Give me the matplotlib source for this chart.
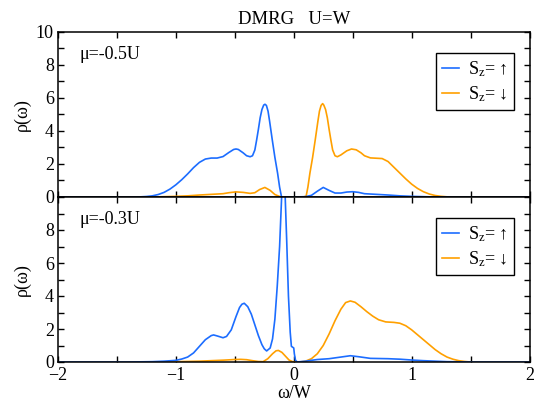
import matplotlib
matplotlib.use("Agg")
import matplotlib.pyplot as plt
from matplotlib.ticker import MultipleLocator

plt.rcParams['font.family'] = ['Liberation Serif', 'DejaVu Serif']
plt.rcParams['mathtext.fontset'] = 'custom'
plt.rcParams['mathtext.rm'] = 'Liberation Serif'
plt.rcParams['mathtext.it'] = 'Liberation Serif'

# ===============================
# Data
# ===============================
# top panel, mu = -0.5U
w_up_a = [-2.0, -1.4, -1.3, -1.25, -1.2, -1.15, -1.1, -1.05, -1.0, -0.95, -0.9, -0.85,
          -0.8, -0.75, -0.7, -0.65, -0.6, -0.55, -0.51, -0.49, -0.47, -0.43, -0.4,
          -0.37, -0.35, -0.33, -0.315, -0.3, -0.285, -0.27, -0.255, -0.244, -0.232,
          -0.218, -0.205, -0.195, -0.182, -0.16, -0.137, -0.12, -0.105, -0.1, -0.092,
          -0.08, -0.07, 0.0, 0.1, 0.15, 0.2, 0.25, 0.3, 0.35, 0.4, 0.45, 0.5, 0.55,
          0.6, 0.7, 0.8, 0.9, 1.0, 1.1, 1.2, 2.0]
rho_up_a = [0.0, 0.0, 0.01, 0.03, 0.07, 0.15, 0.28, 0.48, 0.74, 1.05, 1.4, 1.78,
            2.1, 2.3, 2.36, 2.36, 2.45, 2.7, 2.88, 2.91, 2.88, 2.68, 2.5,
            2.44, 2.5, 2.85, 3.45, 4.1, 4.8, 5.3, 5.57, 5.62, 5.55,
            5.2, 4.6, 4.1, 3.45, 2.4, 1.44, 0.6, 0.05, 0.0, -0.5,
            -0.3, 0.0, 0.0, 0.02, 0.1, 0.35, 0.58, 0.4, 0.24, 0.24, 0.3, 0.32, 0.28,
            0.2, 0.16, 0.12, 0.07, 0.04, 0.02, 0.0, 0.0]

w_dn_a = [-2.0, -1.2, -1.0, -0.9, -0.8, -0.75, -0.7, -0.6, -0.55, -0.49, -0.43,
          -0.37, -0.33, -0.29, -0.245, -0.2, -0.16, -0.12, -0.1, 0.0, 0.08, 0.105,
          0.12, 0.137, 0.16, 0.182, 0.195, 0.205, 0.218, 0.232, 0.245, 0.255, 0.27,
          0.285, 0.3, 0.315, 0.33, 0.35, 0.37, 0.4, 0.45, 0.49, 0.53, 0.57, 0.6,
          0.65, 0.7, 0.75, 0.8, 0.85, 0.9, 0.95, 1.0, 1.05, 1.1, 1.15, 1.2, 1.25,
          1.3, 1.4, 2.0]
rho_dn_a = [0.0, 0.0, 0.04, 0.07, 0.12, 0.14, 0.16, 0.2, 0.26, 0.31, 0.28,
            0.22, 0.26, 0.45, 0.58, 0.4, 0.15, 0.03, 0.0, 0.0, 0.0, 0.05,
            0.6, 1.44, 2.4, 3.45, 4.1, 4.6, 5.2, 5.55, 5.66, 5.57, 5.3,
            4.8, 4.1, 3.45, 2.85, 2.5, 2.44, 2.55, 2.8, 2.91, 2.86, 2.68, 2.5,
            2.37, 2.35, 2.33, 2.15, 1.8, 1.45, 1.1, 0.78, 0.52, 0.32, 0.18, 0.09, 0.04,
            0.01, 0.0, 0.0]

# bottom panel, mu = -0.3U
w_up_b = [-2.0, -1.4, -1.3, -1.2, -1.1, -1.0, -0.95, -0.9, -0.85, -0.8, -0.75,
          -0.7, -0.68, -0.65, -0.6, -0.57, -0.53, -0.49, -0.46, -0.44, -0.42, -0.39,
          -0.36, -0.33, -0.3, -0.27, -0.25, -0.23, -0.2, -0.18, -0.16, -0.14,
          -0.12, -0.1, -0.09, -0.075, -0.06, -0.045, -0.03, -0.02, -0.01, 0.0,
          0.005, 0.015, 0.03, 0.1, 0.2, 0.3, 0.4, 0.48, 0.55, 0.65, 0.8, 0.9,
          1.0, 1.1, 1.2, 1.3, 1.5, 2.0]
rho_up_b = [0.0, 0.0, 0.01, 0.02, 0.05, 0.1, 0.18, 0.3, 0.55, 0.95, 1.35,
            1.6, 1.64, 1.58, 1.47, 1.55, 1.95, 2.75, 3.3, 3.5, 3.56, 3.35,
            2.9, 2.25, 1.6, 1.05, 0.8, 0.67, 0.85, 1.4, 2.6, 4.6,
            7.0, 10.5, 11.5, 10.5, 7.4, 4.0, 1.8, 0.95, 0.9, 0.85,
            0.5, 0.1, 0.0, 0.05, 0.15, 0.2, 0.3, 0.38, 0.32, 0.22, 0.2, 0.17,
            0.12, 0.08, 0.05, 0.02, 0.0, 0.0]

w_dn_b = [-2.0, -1.2, -1.0, -0.8, -0.7, -0.6, -0.5, -0.45, -0.4, -0.35, -0.3,
          -0.26, -0.22, -0.18, -0.15, -0.13, -0.1, -0.07, -0.04, -0.01, 0.05,
          0.1, 0.15, 0.2, 0.25, 0.3, 0.35, 0.4, 0.44, 0.48, 0.52, 0.57, 0.62,
          0.67, 0.72, 0.78, 0.85, 0.9, 0.95, 1.0, 1.05, 1.1, 1.15, 1.2, 1.25,
          1.3, 1.35, 1.4, 1.45, 1.5, 2.0]
rho_dn_b = [0.0, 0.0, 0.02, 0.05, 0.08, 0.11, 0.15, 0.16, 0.14, 0.08, 0.03,
            0.02, 0.2, 0.5, 0.68, 0.7, 0.58, 0.35, 0.12, 0.02, 0.0,
            0.05, 0.2, 0.5, 1.0, 1.7, 2.5, 3.2, 3.6, 3.7, 3.62, 3.35, 3.05,
            2.78, 2.56, 2.43, 2.4, 2.35, 2.2, 1.95, 1.65, 1.35, 1.05, 0.75, 0.5,
            0.3, 0.17, 0.08, 0.03, 0.0, 0.0]

panel_labels = ["\u03bc=-0.5U", "\u03bc=-0.3U"]
legend_labels = ["S$_\\mathrm{z}$= \u2191", "S$_\\mathrm{z}$= \u2193"]
c_up = "#1c6dff"
c_dn = "#ffa000"
fs = 13

fig = plt.figure(figsize=(5.35, 4.01), dpi=100)
ax1 = fig.add_axes([58 / 535, 1 - 197 / 401, 471.5 / 535, 165 / 401])
ax2 = fig.add_axes([58 / 535, 1 - 362 / 401, 471.5 / 535, 165 / 401])

data = [(ax1, w_up_a, rho_up_a, w_dn_a, rho_dn_a), (ax2, w_up_b, rho_up_b, w_dn_b, rho_dn_b)]

for i, (ax, wu, ru, wd, rd) in enumerate(data):
    ax.plot(wd, rd, color=c_dn, lw=1.2, label=legend_labels[1])
    ax.plot(wu, ru, color=c_up, lw=1.2, label=legend_labels[0])
    ax.set_xlim(-2, 2)
    ax.set_ylim(0, 10)
    ax.xaxis.set_major_locator(MultipleLocator(1))
    ax.xaxis.set_minor_locator(MultipleLocator(0.5))
    ax.yaxis.set_major_locator(MultipleLocator(2))
    ax.yaxis.set_minor_locator(MultipleLocator(1))
    ax.tick_params(which='both', direction='in', top=True, right=True, length=4.5, width=1,
                   labelsize=fs, pad=3)
    for s in ax.spines.values():
        s.set_linewidth(1.1)
    ax.set_ylabel("\u03c1(\u03c9)", fontsize=fs)
    ax.yaxis.set_label_coords(-0.058, 0.5)
    ax.text(0.045, 0.835, panel_labels[i], transform=ax.transAxes, fontsize=fs)
    h, l = ax.get_legend_handles_labels()
    leg = ax.legend(h[::-1], l[::-1], loc='upper right', bbox_to_anchor=(0.967, 0.873),
                    fontsize=fs, frameon=True, fancybox=False, framealpha=1,
                    edgecolor='black', handlelength=0.95, handletextpad=0.5,
                    borderpad=0.35, labelspacing=0.3, borderaxespad=0)
    leg.get_frame().set_linewidth(1.0)

ax1.tick_params(labelbottom=False)
ax2.tick_params(axis='x', pad=3.5)
ax2.set_yticks([0, 2, 4, 6, 8])
ax2.set_xlabel("\u03c9/W", fontsize=fs)
ax2.xaxis.set_label_coords(0.5, -0.14)
ax1.set_title("DMRG   U=W", fontsize=13.5, pad=6)

fig.savefig("out.png", dpi=100)
